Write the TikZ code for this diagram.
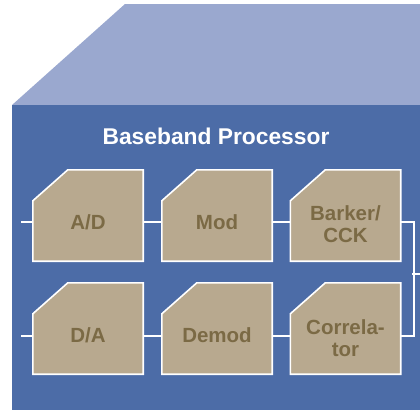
\documentclass[tikz,border=0pt]{standalone}
\usepackage{fontspec}
\setmainfont{Liberation Sans}
\definecolor{topface}{HTML}{9AA8CF}
\definecolor{frontface}{HTML}{4C6CA7}
\definecolor{blockfill}{HTML}{B8A98F}
\definecolor{blocktext}{HTML}{7B6A45}
\begin{document}
\begin{tikzpicture}[x=1pt, y=-1pt,
		wire/.style={white, line width=1.6pt},
		blockbox/.style={rectangle, minimum width=110pt, minimum height=91pt, inner sep=0pt},
		blocktxt/.style={text=blocktext, font=\fontsize{20.5}{21.5}\selectfont\bfseries, align=center}]
			\useasboundingbox (0,0) rectangle (420,410);

			% housing
			\fill[topface] (12,105) -- (125,4) -- (420,4) -- (420,105) -- cycle;
			\fill[frontface] (12,105) rectangle (420,410);
			\node[text=white, font=\fontsize{22.8}{27}\selectfont\bfseries] (title) at (216,136) {Baseband Processor};

			% blocks
			\node[blockbox] (ad) at (88,215.5) {};
			\node[blockbox] (mod) at (217,215.5) {};
			\node[blockbox] (bark) at (345.5,215.5) {};
			\node[blockbox] (da) at (88,328.5) {};
			\node[blockbox] (demod) at (217,328.5) {};
			\node[blockbox] (corr) at (345.5,328.5) {};
			\foreach \b in {ad,mod,bark,da,demod,corr}
				\filldraw[fill=blockfill, draw=white, line width=1.6pt]
					(\b.south west) -- ([yshift=-31pt]\b.north west) -- ([xshift=35pt]\b.north west)
					-- (\b.north east) -- (\b.south east) -- cycle;

			\node[blocktxt] (adtxt) at (88,222) {A/D};
			\node[blocktxt] (modtxt) at (217,222) {Mod};
			\node[blocktxt] (barktxt) at (345.5,224) {Barker/\\CCK};
			\node[blocktxt] (datxt) at (88,335.5) {D/A};
			\node[blocktxt] (demodtxt) at (217,335.5) {Demod};
			\node[blocktxt] (corrtxt) at (345.5,338) {Correla-\\tor};

			% connectors
			\coordinate (inA) at (21,222);
			\coordinate (inB) at (21,336);
			\coordinate (bus) at (414,274);
			\coordinate (out) at (420,274);
			\draw[wire] (inA) -- (ad.west |- inA);
			\draw[wire] (ad.east |- inA) -- (mod.west |- inA);
			\draw[wire] (mod.east |- inA) -- (bark.west |- inA);
			\draw[wire] (inB) -- (da.west |- inB);
			\draw[wire] (da.east |- inB) -- (demod.west |- inB);
			\draw[wire] (demod.east |- inB) -- (corr.west |- inB);
			\draw[wire] (bark.east |- inA) -| (bus) |- (corr.east |- inB);
			\draw[wire] ([xshift=-2pt]bus) -- (out);
		\end{tikzpicture}
\end{document}
